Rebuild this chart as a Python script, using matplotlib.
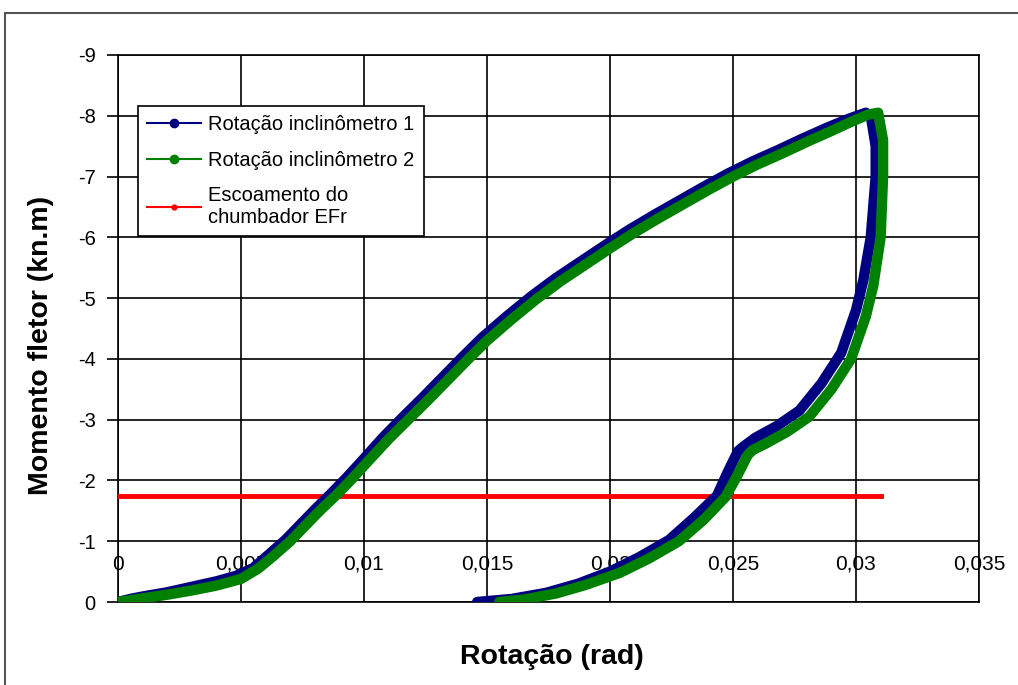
import matplotlib
matplotlib.use('Agg')
import matplotlib.pyplot as plt
from matplotlib.lines import Line2D
from matplotlib.patches import Rectangle

plt.rcParams['font.family'] = ['Liberation Sans', 'DejaVu Sans']

# Rotação inclinômetro 1 (rad, kN.m): carregamento + descarregamento
rot1 = [0, 0.0005, 0.001, 0.002, 0.003, 0.004, 0.0048, 0.0055, 0.0061, 0.0068,
        0.0074, 0.0080, 0.0087, 0.0093, 0.0100, 0.0108, 0.0116, 0.0124, 0.0132, 0.0140,
        0.0148, 0.0158, 0.0168, 0.0178, 0.0188, 0.0198, 0.0208, 0.0218, 0.0228, 0.0238,
        0.0248, 0.0258, 0.0268, 0.0278, 0.0288, 0.0297, 0.0304,
        0.0306, 0.0308, 0.0308, 0.0306, 0.0303, 0.0300, 0.0294, 0.0286, 0.0277, 0.0268,
        0.0259, 0.0254, 0.0252, 0.0248, 0.02435, 0.0234, 0.0224, 0.0212, 0.0200, 0.0187,
        0.0174, 0.0160, 0.0146]
mom1 = [0, -0.05, -0.09, -0.16, -0.25, -0.34, -0.43, -0.56, -0.77, -1.02,
        -1.27, -1.52, -1.8, -2.05, -2.36, -2.72, -3.05, -3.37, -3.7, -4.03,
        -4.35, -4.7, -5.03, -5.33, -5.6, -5.87, -6.13, -6.37, -6.6, -6.83,
        -7.05, -7.25, -7.43, -7.62, -7.8, -7.95, -8.05,
        -8.0, -7.5, -7.0, -6.0, -5.3, -4.8, -4.1, -3.6, -3.15, -2.9,
        -2.7, -2.55, -2.48, -2.15, -1.75, -1.38, -1.02, -0.74, -0.5, -0.3,
        -0.15, -0.05, 0]

# Rotação inclinômetro 2
rot2 = [0, 0.0005, 0.001, 0.002, 0.003, 0.004, 0.005, 0.0057, 0.0063, 0.0070,
        0.0076, 0.0082, 0.0089, 0.0095, 0.0102, 0.0110, 0.0118, 0.0126, 0.0134, 0.0142,
        0.0150, 0.0160, 0.0170, 0.0180, 0.0190, 0.0200, 0.0210, 0.0220, 0.0230, 0.0240,
        0.0250, 0.0260, 0.0270, 0.0280, 0.0290, 0.0298, 0.0305,
        0.0309, 0.0311, 0.0311, 0.0310, 0.0307, 0.0304, 0.0298, 0.0290, 0.0281, 0.0272,
        0.0263, 0.0258, 0.0256, 0.0252, 0.0247, 0.0238, 0.0228, 0.0216, 0.0204, 0.0190,
        0.0178, 0.0165, 0.0155]
mom2 = [0, -0.03, -0.06, -0.12, -0.19, -0.27, -0.38, -0.55, -0.75, -1.0,
        -1.25, -1.5, -1.77, -2.02, -2.33, -2.68, -3.0, -3.32, -3.65, -3.98,
        -4.3, -4.65, -4.98, -5.28, -5.55, -5.82, -6.08, -6.32, -6.55, -6.78,
        -7.0, -7.2, -7.38, -7.57, -7.75, -7.9, -8.02,
        -8.05, -7.6, -7.0, -6.0, -5.2, -4.7, -4.0, -3.5, -3.05, -2.8,
        -2.6, -2.5, -2.42, -2.1, -1.73, -1.35, -1.0, -0.72, -0.48, -0.28,
        -0.14, -0.04, 0]

# Escoamento do chumbador EFr
esc_x = [0, 0.031]
esc_y = [-1.75, -1.75]

xticks = [0, 0.005, 0.01, 0.015, 0.02, 0.025, 0.03, 0.035]
yticks = [0, -1, -2, -3, -4, -5, -6, -7, -8, -9]

fig = plt.figure(figsize=(10.18, 6.85), dpi=100)
fig.patches.append(Rectangle((5 / 1018, -0.1), 1.2, 1 - 13 / 685 + 0.1,
                             transform=fig.transFigure, fill=False,
                             edgecolor='#555555', linewidth=1.5))
ax = fig.add_axes([118 / 1018, 1 - 602 / 685, (979 - 118) / 1018, (602 - 55) / 685])

ax.plot(esc_x, esc_y, color='#ff0000', lw=3.5, zorder=3)
ax.plot(rot1, mom1, color='#000080', lw=7.5, solid_capstyle='round',
        solid_joinstyle='round', zorder=4)
ax.plot(rot2, mom2, color='#008000', lw=7.5, solid_capstyle='round',
        solid_joinstyle='round', zorder=5)

ax.set_xlim(0, 0.035)
ax.set_ylim(0, -9)
ax.set_xticks(xticks)
ax.set_xticklabels([('%g' % v).replace('.', ',') for v in xticks], fontsize=15)
ax.set_yticks(yticks)
ax.set_yticklabels(['%d' % v for v in yticks], fontsize=14.5)
ax.tick_params(axis='x', length=0, pad=-34)
ax.tick_params(axis='y', length=8, width=1.2, direction='out', pad=8)
ax.grid(True, color='black', lw=1.2)
ax.set_axisbelow(True)
for s in ax.spines.values():
    s.set_linewidth(1.2)

fig.text(552 / 1018, 1 - 657 / 685, 'Rotação (rad)', fontsize=20.5, fontweight='bold',
         ha='center', va='center')
fig.text(41 / 1018, 1 - 345 / 685, 'Momento fletor (kn.m)', fontsize=20.5,
         fontweight='bold', rotation=90, ha='center', va='center')

handles = [
    Line2D([], [], color='#000080', lw=1.5, marker='o', markersize=6),
    Line2D([], [], color='#008000', lw=1.5, marker='o', markersize=6),
    Line2D([], [], color='#ff0000', lw=1.5, marker='o', markersize=3.5),
]
labels = ['Rotação inclinômetro 1', 'Rotação inclinômetro 2', 'Escoamento do\nchumbador EFr']
leg = ax.legend(handles, labels, loc='upper left', bbox_to_anchor=(0.023, 0.906),
                fontsize=14.5, frameon=True, fancybox=False, framealpha=1,
                edgecolor='black', handlelength=2.7, handletextpad=0.35,
                borderpad=0.45, labelspacing=0.8, borderaxespad=0)
leg.get_frame().set_linewidth(1.2)
leg.set_zorder(10)

fig.savefig('out.png', dpi=100)
